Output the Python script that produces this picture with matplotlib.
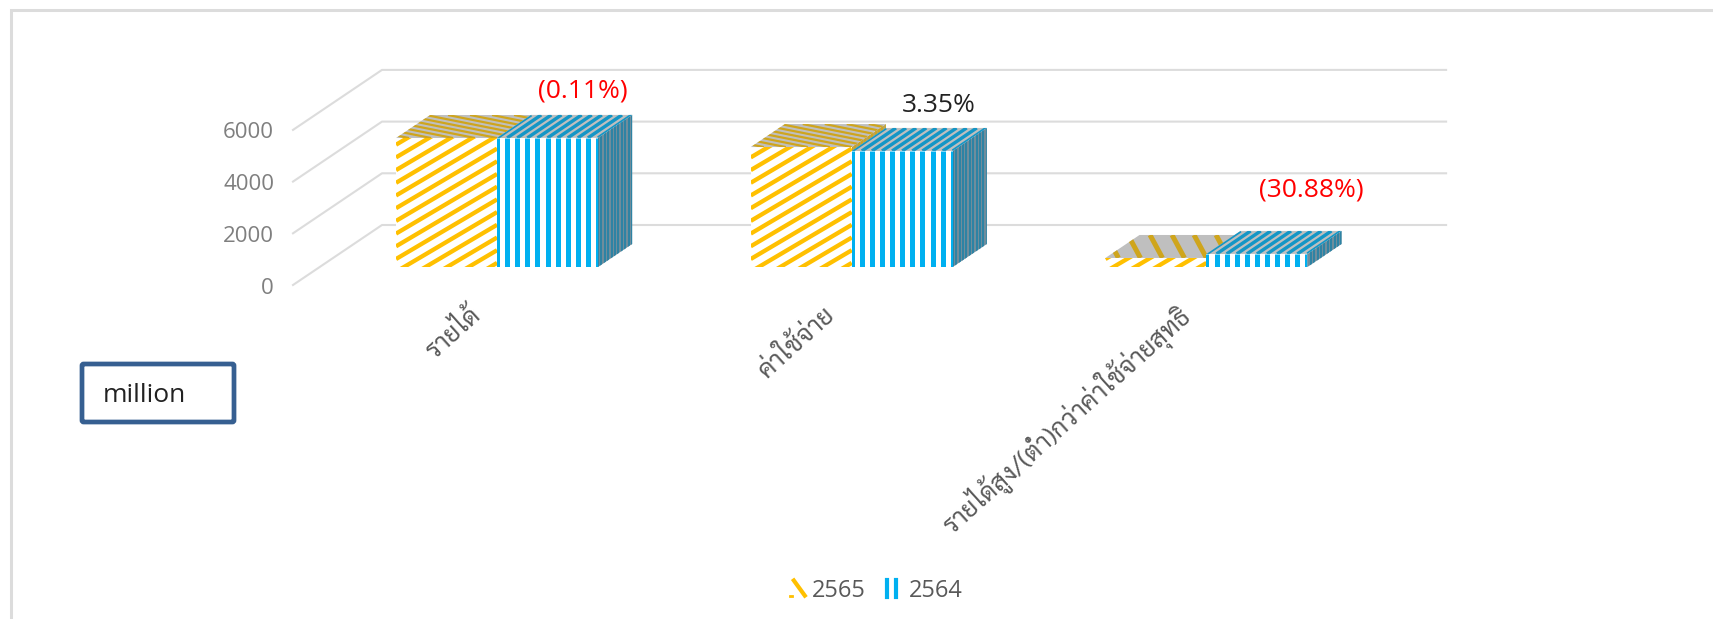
import matplotlib
matplotlib.use("Agg")
from matplotlib import pyplot as plt
from matplotlib.collections import LineCollection
from matplotlib.legend_handler import HandlerBase
from matplotlib.lines import Line2D
from matplotlib.patches import FancyBboxPatch, Polygon, Rectangle

#data
categories = ["รายได้", "ค่าใช้จ่าย", "รายได้สูง/(ต่ำ)กว่าค่าใช้จ่ายสุทธิ"]
years = ["2565", "2564"]
values_2565 = [4990, 4640, 350]
values_2564 = [4995, 4490, 506]
pct_labels = ["(0.11%)", "3.35%", "(30.88%)"]
pct_colors = ["#FF0000", "#222222", "#FF0000"]
y_ticks = [0, 2000, 4000, 6000]

TEXT_FONT = ["Open Sans", "DejaVu Sans"]
THAI_FONT = ["Sarabun", "Noto Sans Thai", "Noto Sans Thai Looped", "Anuphan", "DejaVu Sans"]

W, H = 1713, 619
#scale of the axes, pixels per category and pixels per unit
PX_X = 354.7
PX_Y = 51.7 / 2000
LEFT_PX = 293
ZERO_PX = 619 - 285
#the oblique depth of the 3d wall and of the bars, in pixels
WALL_DX, WALL_DY = 89, 60
BAR_START, BAR_END = 0.30, 0.683
BAR_W = 101 / PX_X

GRID = "#DCDCDC"
YELLOW = "#FFC000"
GOLD = "#CFA51C"
BLUE = "#00B0F0"
STEEL = "#1496C6"
SIDE_BG = "#6F8D9C"
SIDE_FG = "#2382A6"
TOP_BG = "#BFBFBF"

fig = plt.figure(figsize=(W / 100, H / 100), dpi=100)
ax = fig.add_axes([0, 0, 1, 1])
x_min = -0.5 - LEFT_PX / PX_X
y_min = -ZERO_PX / PX_Y
ax.set_xlim(x_min, x_min + W / PX_X)
ax.set_ylim(y_min, y_min + H / PX_Y)
ax.axis("off")


def depth(x, y, d):
    return x + d * WALL_DX / PX_X, y + d * WALL_DY / PX_Y


def face(points, color, z):
    p = Polygon(points, closed=True, facecolor=color, edgecolor="none", zorder=z)
    ax.add_patch(p)
    return p


def stripes(segs, color, lw_px, clip, z):
    lc = LineCollection(segs, colors=color, linewidths=lw_px * 0.72, capstyle="butt", zorder=z)
    ax.add_collection(lc, autolim=False)
    lc.set_clip_path(clip)


def draw_side(x1, v, z, bg, fg, period=3.4):
    dx = (BAR_END - BAR_START) * WALL_DX / PX_X
    dy = (BAR_END - BAR_START) * WALL_DY / PX_Y
    p = face([(x1, y0), (x1 + dx, y0 + dy), (x1 + dx, v + dy), (x1, v)], bg, z)
    n = int(dx * PX_X / period) + 1
    segs = [[(x1 + k * period / PX_X, y0), (x1 + k * period / PX_X, v + 2 * dy)] for k in range(n + 1)]
    stripes(segs, fg, period / 2, p, z + 0.1)


def draw_yellow(x0, v, z, thin_top):
    x1 = x0 + BAR_W
    dx = (BAR_END - BAR_START) * WALL_DX / PX_X
    dy = (BAR_END - BAR_START) * WALL_DY / PX_Y
    #the side stays under the blue bar, only the bit above it shows
    draw_side(x1, v, 2, "#B9A35A", GOLD)
    p = face([(x0, y0), (x1, y0), (x1, v), (x0, v)], "white", z)
    #slanted stripes on the front, same pattern whatever the height
    segs = []
    for k in range(-8, 16):
        base = 8 / PX_Y + k * 12.7 / PX_Y
        segs.append([(x0, y0 + base), (x1, y0 + base + 101 * 0.59 / PX_Y)])
    stripes(segs, YELLOW, 4.3, p, z + 0.1)
    #top face
    p = face([(x0, v), (x1, v), (x1 + dx, v + dy), (x0 + dx, v + dy)], TOP_BG, z)
    lean = 5.0 if thin_top else 0.54
    width = 2.2 if thin_top else 5.0
    segs = []
    for k in range(-12, 12):
        xa = x0 + k * 22 / PX_X
        xb = xa - lean * 23 / PX_X
        segs.append([(xa + 101 / PX_X, v), (xb + 101 / PX_X, v + dy)])
    stripes(segs, GOLD, width, p, z + 0.1)


def draw_blue(x0, v, z):
    x1 = x0 + BAR_W
    dx = (BAR_END - BAR_START) * WALL_DX / PX_X
    dy = (BAR_END - BAR_START) * WALL_DY / PX_Y
    draw_side(x1, v, z - 0.5, SIDE_BG, SIDE_FG)
    p = face([(x0, y0), (x1, y0), (x1, v), (x0, v)], "white", z)
    period = BAR_W / 10
    segs = [[(x0 + k * period, y0), (x0 + k * period, v)] for k in range(11)]
    stripes(segs, BLUE, 5, p, z + 0.1)
    p = face([(x0, v), (x1, v), (x1 + dx, v + dy), (x0 + dx, v + dy)], TOP_BG, z)
    segs = [[(x0 + k * period, v), (x0 + k * period + dx, v + dy)] for k in range(11)]
    stripes(segs, STEEL, 3.4, p, z + 0.1)


#back wall gridlines and the slanted ones on the side wall
for t in y_ticks:
    ax.plot(*zip(depth(-0.5, t, 0), depth(-0.5, t, 1), depth(2.5, t, 1)), color=GRID, lw=1.5, zorder=1)
    ax.text(-0.5 - 19 / PX_X, t - 3 / PX_Y, str(t), ha="right", va="center", color="#7F7F7F",
            fontsize=16, family=TEXT_FONT)

for i in range(len(categories)):
    xc, y0 = depth(i, 0, BAR_START)
    v1, v2 = values_2565[i], values_2564[i]
    #the shorter bar goes first so the taller one covers the shared edge
    z1, z2 = (3, 5) if v1 <= v2 else (5, 3)
    draw_yellow(xc - BAR_W, y0 + v1, z1, v1 > 1000)
    draw_blue(xc, y0 + v2, z2)

    #rotated category label, its end sits under the bar
    ax.text(i + 7 / PX_X, -1040, categories[i], rotation=42, rotation_mode="anchor", ha="right",
            va="center", color="#595959", fontsize=18.3, family=THAI_FONT)

#percent labels above the bars
pct_pos = [(583 - 293, 619 - 91 - 334), (939 - 293, 619 - 105 - 334), (1311 - 293, 619 - 190 - 334)]
for lab, col, (px, py) in zip(pct_labels, pct_colors, pct_pos):
    ax.text(-0.5 + px / PX_X, py / PX_Y, lab, ha="center", va="center", color=col, fontsize=19,
            family=TEXT_FONT)


class KeyHandler(HandlerBase):
    def create_artists(self, legend, orig_handle, x0, y0, w, h, fontsize, trans):
        if orig_handle == "yellow":
            return [Line2D([x0 + 3, x0 + w - 1], [y0 + h, y0 + 1], color=YELLOW, lw=3, transform=trans),
                    Line2D([x0, x0 + 2], [y0 + 1, y0 + 1], color=YELLOW, lw=2, transform=trans)]
        return [Line2D([x0 + 1, x0 + 1], [y0, y0 + h], color=BLUE, lw=3, transform=trans),
                Line2D([x0 + 7, x0 + 7], [y0, y0 + h], color=BLUE, lw=3, transform=trans)]


ax.legend(["yellow", "blue"], years, handler_map={str: KeyHandler()}, frameon=False, ncol=2,
          loc="center", bbox_to_anchor=(876 / W, 1 - 591 / H), handlelength=0.7, handleheight=0.7,
          handletextpad=0.25, columnspacing=0.85, prop={"family": TEXT_FONT, "size": 17},
          labelcolor="#595959")

#the text box
box = FancyBboxPatch((82 / W, 1 - 422 / H), 152 / W, 58 / H, boxstyle="round,pad=0,rounding_size=0.001",
                     transform=ax.transAxes, facecolor="white", edgecolor="#365F91", lw=3.4, mutation_aspect=2.8,
                     zorder=6)
ax.add_patch(box)
ax.text(103 / W, 1 - 395 / H, "million", transform=ax.transAxes, ha="left", va="center", color="#222222",
        fontsize=19, family=TEXT_FONT, zorder=7)

#outer frame of the pasted chart, runs off the picture at right and bottom
ax.add_patch(Rectangle((10.5 / W, -0.05), 1.1, 1 - 9.5 / H + 0.05, transform=ax.transAxes, facecolor="none",
                       edgecolor=GRID, lw=2.2, clip_on=True, zorder=0))

fig.savefig("out.png", dpi=100, facecolor="white")
